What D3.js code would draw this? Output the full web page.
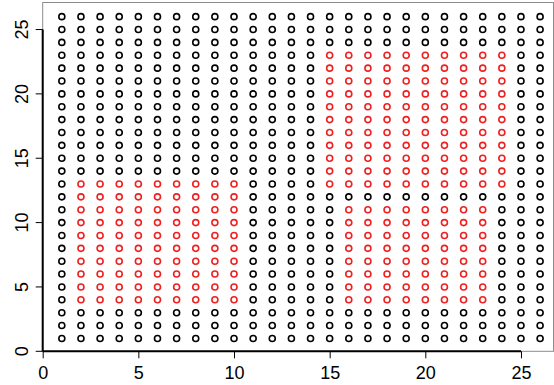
<!DOCTYPE html>
<html>
<head>
<meta charset="utf-8">
<script src="https://cdn.jsdelivr.net/npm/d3@7"></script>
<style>
  body { margin: 0; background: #fff; }
  svg { display: block; }
</style>
</head>
<body>
<svg id="chart" width="554" height="385"></svg>
<script>

// grid columns and rows
var gridX = [1, 2, 3, 4, 5, 6, 7, 8, 9, 10, 11, 12, 13, 14, 15, 16, 17, 18, 19, 20, 21, 22, 23, 24, 25, 26];
var gridY = [1, 2, 3, 4, 5, 6, 7, 8, 9, 10, 11, 12, 13, 14, 15, 16, 17, 18, 19, 20, 21, 22, 23, 24, 25, 26];

// blocks of points drawn in red: [xFrom, xTo, yFrom, yTo]
var redBlocks = [
  [2, 10, 4, 13],
  [15, 24, 13, 23],
  [16, 23, 4, 11]
];

var xTicks = [0, 5, 10, 15, 20, 25];
var yTicks = [0, 5, 10, 15, 20, 25];

var svg = d3.select("#chart");

var x = d3.scaleLinear().domain([0, 26.7]).range([42.7, 553.5]);
var y = d3.scaleLinear().domain([0, 27.1]).range([351.3, 2.5]);

function isRed(px, py) {
  return redBlocks.some(function(b) {
    return px >= b[0] && px <= b[1] && py >= b[2] && py <= b[3];
  });
}

var points = [];
gridY.forEach(function(py) {
  gridX.forEach(function(px) {
    points.push({x: px, y: py, red: isRed(px, py)});
  });
});

// plot box
svg.append("rect")
    .attr("x", x(0))
    .attr("y", y(27.1))
    .attr("width", x(26.7) - x(0))
    .attr("height", y(0) - y(27.1))
    .attr("fill", "none")
    .attr("stroke", "#8c8c8c")
    .attr("stroke-width", 1);

svg.append("g")
    .selectAll("circle")
    .data(points)
  .enter().append("circle")
    .attr("cx", function(d) { return x(d.x); })
    .attr("cy", function(d) { return y(d.y); })
    .attr("r", 3)
    .attr("fill", "none")
    .attr("stroke", function(d) { return d.red ? "#ee2020" : "#000"; })
    .attr("stroke-width", 1.6);

var xAxis = svg.append("g")
    .attr("transform", "translate(0," + y(0) + ")")
    .call(d3.axisBottom(x).tickValues(xTicks).tickSize(7).tickPadding(3).tickSizeOuter(0));

var yAxis = svg.append("g")
    .attr("transform", "translate(" + x(0) + ",0)")
    .call(d3.axisLeft(y).tickValues(yTicks).tickSize(7).tickPadding(4).tickSizeOuter(0));

[xAxis, yAxis].forEach(function(ax) {
  ax.select(".domain").remove();
  ax.selectAll("line").attr("stroke", "#000").attr("stroke-width", 1);
  ax.selectAll("text")
      .attr("fill", "#000")
      .style("font-family", "'Liberation Sans', Arial, sans-serif")
      .style("font-size", "18px");
});

// axis lines span first to last tick, like R's axis()
svg.append("line")
    .attr("x1", x(0)).attr("x2", x(25))
    .attr("y1", y(0)).attr("y2", y(0))
    .attr("stroke", "#000").attr("stroke-width", 2);

svg.append("line")
    .attr("x1", x(0)).attr("x2", x(0))
    .attr("y1", y(0)).attr("y2", y(25))
    .attr("stroke", "#000").attr("stroke-width", 2);

xAxis.selectAll("text").attr("y", 10).attr("dy", "0.97em");

yAxis.selectAll("text")
    .attr("text-anchor", "middle")
    .attr("transform", function(d) { return "translate(-14.4," + y(d) + ") rotate(-90)"; })
    .attr("x", 0)
    .attr("y", 0)
    .attr("dy", 0);
yAxis.selectAll(".tick").attr("transform", null);
yAxis.selectAll(".tick line").attr("transform", function(d) { return "translate(0," + y(d) + ")"; });

</script>
</body>
</html>
